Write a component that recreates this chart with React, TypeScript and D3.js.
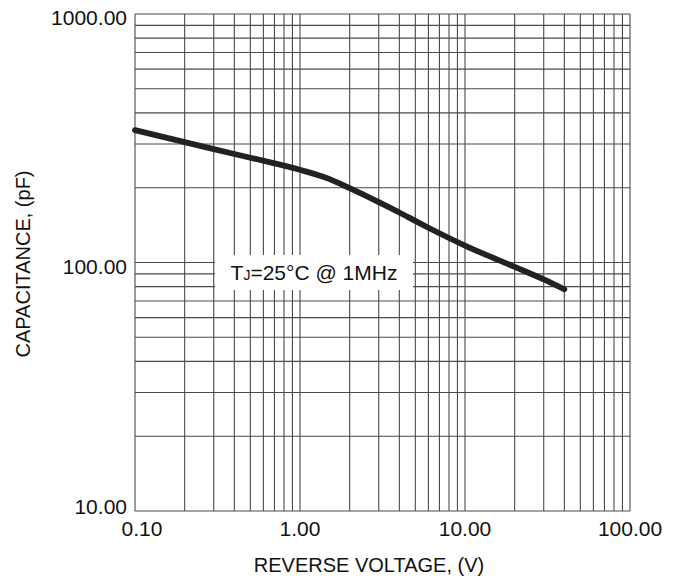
import React, { useEffect, useRef } from 'react';
import * as d3 from 'd3';

// reverse voltage (V) and junction capacitance (pF)
const voltage = [0.1, 0.2, 0.3, 0.5, 1, 1.5, 2, 3, 4, 5, 6, 8, 10, 20, 30, 40];
const capacitance = [341, 305, 286, 264, 236, 217, 199, 175, 159, 147, 138, 125.5, 117, 96, 85.5, 78];

const xTicks = [0.1, 1, 10, 100];
const yTicks = [10, 100, 1000];

export default function App() {
    const ref = useRef<SVGSVGElement>(null);

    useEffect(() => {
        if (!ref.current) return;
        const svg = d3.select(ref.current);
        svg.selectAll('*').remove();

        const width = 682;
        const height = 579;
        const margin = { top: 14, right: 52, bottom: 68, left: 135 };
        const font = '"Liberation Sans", Arial, sans-serif';

        const x = d3.scaleLog()
            .domain([0.1, 100])
            .range([margin.left, width - margin.right]);

        const y = d3.scaleLog()
            .domain([10, 1000])
            .range([height - margin.bottom, margin.top]);

        // minor + major grid, every 1..9 per decade
        const xGrid: number[] = [];
        for (let e = -1; e < 2; e++) for (let k = 1; k < 10; k++) xGrid.push(k * Math.pow(10, e));
        xGrid.push(100);
        const yGrid: number[] = [];
        for (let e = 1; e < 3; e++) for (let k = 1; k < 10; k++) yGrid.push(k * Math.pow(10, e));
        yGrid.push(1000);

        const grid = svg.append('g').attr('stroke', '#4a4a4a').attr('stroke-width', 1.1);
        grid.selectAll('line.v')
            .data(xGrid)
            .enter()
            .append('line')
            .attr('x1', d => x(d))
            .attr('x2', d => x(d))
            .attr('y1', y(1000))
            .attr('y2', y(10));
        grid.selectAll('line.h')
            .data(yGrid)
            .enter()
            .append('line')
            .attr('x1', x(0.1))
            .attr('x2', x(100))
            .attr('y1', d => y(d))
            .attr('y2', d => y(d));

        // label box hiding the grid
        const boxX = 215, boxY = 255, boxW = 198, boxH = 35;
        svg.append('rect')
            .attr('x', boxX)
            .attr('y', boxY)
            .attr('width', boxW)
            .attr('height', boxH)
            .attr('fill', '#fff');

        const label = svg.append('text')
            .attr('x', boxX + boxW / 2)
            .attr('y', boxY + 25)
            .attr('text-anchor', 'middle')
            .attr('font-family', font)
            .attr('font-size', 21)
            .attr('fill', '#111');
        label.append('tspan').text('T');
        label.append('tspan').attr('font-size', 14).text('J');
        label.append('tspan').text('=25°C @ 1MHz');

        // curve
        const pts = voltage.map((v, i) => [v, capacitance[i]] as [number, number]);
        const line = d3.line<[number, number]>()
            .x(d => x(d[0]))
            .y(d => y(d[1]))
            .curve(d3.curveMonotoneX);
        svg.append('path')
            .datum(pts)
            .attr('d', line)
            .attr('fill', 'none')
            .attr('stroke', '#222')
            .attr('stroke-width', 5.8)
            .attr('stroke-linecap', 'round');

        // tick labels
        svg.selectAll('text.yt')
            .data(yTicks)
            .enter()
            .append('text')
            .attr('x', margin.left - 8)
            .attr('y', d => y(d) + (d === 10 ? 3 : 11))
            .attr('text-anchor', 'end')
            .attr('font-family', font)
            .attr('font-size', 21)
            .attr('fill', '#111')
            .text(d => d.toFixed(2));

        svg.selectAll('text.xt')
            .data(xTicks)
            .enter()
            .append('text')
            .attr('x', d => x(d) + (d === 0.1 ? 7 : 0))
            .attr('y', height - margin.bottom + 25)
            .attr('text-anchor', 'middle')
            .attr('font-family', font)
            .attr('font-size', 21)
            .attr('fill', '#111')
            .text(d => d.toFixed(2));

        // axis titles
        svg.append('text')
            .attr('x', 369)
            .attr('y', 572)
            .attr('text-anchor', 'middle')
            .attr('font-family', font)
            .attr('font-size', 20)
            .attr('fill', '#111')
            .text('REVERSE VOLTAGE, (V)');

        svg.append('text')
            .attr('transform', 'translate(30,264) rotate(-90)')
            .attr('text-anchor', 'middle')
            .attr('font-family', font)
            .attr('font-size', 20)
            .attr('fill', '#111')
            .text('CAPACITANCE, (pF)');
    }, []);

    return (
        <svg
            ref={ref}
            width={682}
            height={579}
            style={{ position: 'absolute', left: 0, top: 0, background: '#fff' }}
        />
    );
}
